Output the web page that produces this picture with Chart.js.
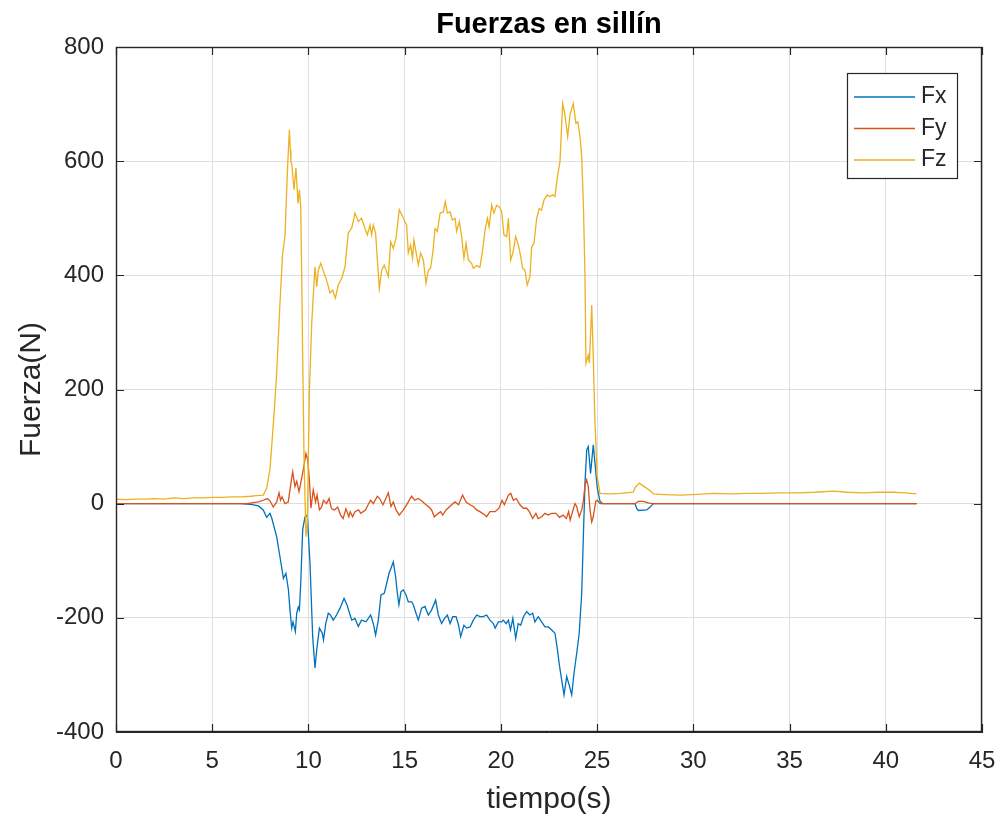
<!DOCTYPE html>
<html>
<head>
<meta charset="utf-8">
<script src="https://cdn.jsdelivr.net/npm/chart.js@4.4.1/dist/chart.umd.min.js"></script>
<style>
html,body{margin:0;padding:0;background:#fff;}
#wrap{width:1000px;height:820px;position:relative;}
</style>
</head>
<body>
<div id="wrap"><canvas id="c" width="1000" height="820"></canvas></div>
<script>
// ---- Data ----
const chartTitle = "Fuerzas en sillín";
const xLabel = "tiempo(s)";
const yLabel = "Fuerza(N)";
const seriesNames = ["Fx", "Fy", "Fz"];
const xTicks = [0,5,10,15,20,25,30,35,40,45];
const yTicks = [-400,-200,0,200,400,600,800];

const fxTime = [0,6.5,6.96,7.4,7.65,7.83,8.0,8.1,8.35,8.52,8.7,8.83,8.96,9.04,9.13,9.2,9.32,9.39,9.47,9.53,9.6,9.7,9.82,9.94,10.08,10.22,10.34,10.43,10.57,10.72,10.78,10.9,11.03,11.14,11.29,11.46,11.64,11.85,12.0,12.25,12.42,12.59,12.76,12.99,13.23,13.37,13.49,13.63,13.77,13.94,14.07,14.19,14.29,14.41,14.53,14.61,14.7,14.81,14.93,15.07,15.19,15.36,15.45,15.59,15.71,15.88,16.05,16.23,16.4,16.61,16.75,16.92,17.07,17.22,17.36,17.5,17.67,17.8,17.91,18.08,18.22,18.4,18.57,18.74,18.91,19.08,19.26,19.43,19.61,19.7,19.87,20.04,20.13,20.27,20.39,20.5,20.62,20.77,20.9,21.03,21.17,21.34,21.5,21.65,21.77,21.94,22.12,22.29,22.46,22.63,22.81,22.94,23.04,23.16,23.28,23.42,23.55,23.68,23.8,23.94,24.07,24.2,24.29,24.37,24.46,24.54,24.66,24.8,24.89,25.01,25.15,25.3,26.97,27.05,27.14,27.58,27.75,27.84,27.92,41.6];
const fxValues = [0,0,-1,-4,-11,-24,-17,-26,-58,-93,-131,-122,-151,-186,-218,-207,-224,-192,-181,-186,-139,-46,-23,-20,-104,-233,-288,-256,-218,-227,-239,-210,-192,-195,-204,-195,-183,-166,-177,-204,-201,-215,-204,-207,-195,-210,-230,-204,-160,-157,-139,-122,-113,-102,-128,-154,-177,-154,-151,-160,-172,-172,-177,-192,-204,-183,-180,-195,-186,-169,-195,-210,-201,-195,-210,-198,-198,-213,-233,-213,-218,-216,-204,-195,-198,-198,-195,-204,-210,-218,-207,-207,-204,-210,-204,-221,-201,-236,-210,-213,-198,-189,-195,-192,-207,-198,-207,-216,-216,-221,-227,-256,-283,-309,-335,-303,-318,-335,-297,-262,-227,-157,-52,36,94,100,53,103,71,27,4,0,0,-8,-12,-11,-6,-3,0,0];

const fyTime = [0,6.8,7.4,7.65,7.86,8.0,8.17,8.35,8.47,8.55,8.63,8.78,8.95,9.09,9.18,9.3,9.39,9.51,9.6,9.73,9.87,9.96,10.05,10.13,10.25,10.37,10.45,10.57,10.68,10.78,10.94,11.07,11.2,11.35,11.52,11.67,11.8,11.95,12.1,12.17,12.29,12.42,12.6,12.72,12.96,13.1,13.23,13.37,13.58,13.7,13.87,13.98,14.15,14.29,14.41,14.55,14.72,14.93,15.1,15.36,15.53,15.71,15.88,16.05,16.23,16.4,16.54,16.75,16.87,16.98,17.15,17.44,17.62,17.8,18.01,18.19,18.4,18.57,18.74,18.91,19.17,19.26,19.43,19.7,19.9,20.06,20.18,20.39,20.51,20.65,20.8,20.99,21.17,21.34,21.48,21.65,21.82,21.94,22.12,22.29,22.46,22.63,22.86,23.04,23.24,23.4,23.52,23.6,23.75,23.85,23.94,24.07,24.2,24.29,24.37,24.46,24.54,24.63,24.72,24.8,24.93,25.01,25.15,26.97,27.14,27.4,27.7,27.9,41.6];
const fyValues = [0,0,3,6,9,5,-6,3,19,6,12,0,3,36,56,30,39,21,36,59,88,77,42,-8,24,3,15,-11,-6,6,0,9,-9,-11,-6,-20,-26,-9,-23,-14,-23,-14,-11,-17,-11,-2,6,0,13,9,-2,6,19,-5,3,-11,-20,-11,-2,13,6,9,5,0,-5,-11,-23,-17,-14,-20,-11,-2,3,-2,15,3,-2,-5,-11,-14,-20,-23,-14,-14,-8,6,-2,15,18,6,9,-2,-8,-8,-14,-26,-17,-26,-23,-17,-20,-17,-17,-24,-20,-26,-14,-29,-11,0,-5,-23,-11,6,33,42,30,-11,-32,-23,4,6,0,0,4,4,1,0,0];

const fzTime = [0,0.5,1,1.5,2,2.5,3,3.5,4,4.5,5,5.5,6,6.5,7,7.3,7.65,7.83,8.0,8.09,8.22,8.35,8.52,8.66,8.78,8.87,8.93,9.01,9.06,9.09,9.14,9.25,9.35,9.46,9.53,9.6,9.65,9.7,9.77,9.87,9.94,10.05,10.17,10.25,10.34,10.43,10.51,10.64,10.76,10.94,11.12,11.26,11.4,11.55,11.73,11.9,12.07,12.25,12.42,12.59,12.76,12.94,13.06,13.2,13.28,13.37,13.49,13.68,13.81,13.94,14.15,14.27,14.41,14.55,14.72,14.85,15.02,15.1,15.19,15.31,15.41,15.48,15.71,15.83,15.97,16.11,16.23,16.34,16.46,16.58,16.7,16.84,17.01,17.11,17.22,17.36,17.48,17.62,17.7,17.84,17.96,18.08,18.19,18.31,18.48,18.57,18.74,18.91,19.05,19.18,19.3,19.39,19.52,19.64,19.78,19.92,20.04,20.16,20.3,20.39,20.51,20.62,20.77,20.91,21.03,21.13,21.25,21.37,21.51,21.6,21.72,21.86,21.99,22.11,22.24,22.41,22.55,22.69,22.81,22.94,23.07,23.21,23.33,23.47,23.59,23.76,23.9,24.0,24.11,24.2,24.29,24.37,24.42,24.54,24.6,24.72,24.8,24.89,25.01,25.15,25.67,26.2,26.88,26.97,27.19,27.49,27.75,27.92,28.5,29.31,30,31.04,32,32.8,33.6,34.5,35.4,36.3,37.27,38,38.85,39.6,40.39,41,41.6];
const fzValues = [8,7,8,8,9,8,10,9,10,10,11,11,12,12,13,14,15,27,60,100,160,229,351,439,468,550,600,655,620,599,593,550,588,526,550,520,400,258,82,-58,-34,199,316,363,415,380,409,421,409,392,369,374,360,383,395,415,474,483,509,494,500,482,471,488,471,488,474,377,409,418,398,459,447,465,515,506,494,488,439,453,430,462,418,439,427,386,409,412,439,482,477,509,511,529,509,511,497,500,477,494,468,430,456,427,421,412,417,414,444,480,500,485,523,509,523,520,511,471,468,500,427,439,468,453,433,412,409,383,398,450,456,500,517,514,532,541,538,541,538,573,599,701,681,643,681,701,666,669,643,608,520,398,246,260,246,348,257,141,47,18,17,18,20,28,36,29,23,17,16,15,16,18,17,18,18,19,19,20,22,20,19,20,20,19,17];

const colors = ["#0072BD", "#D95319", "#EDB120"];

// ---- Build datasets (later series drawn on top, as in the reference) ----
function pts(t, v){ return t.map((x,i)=>({x:x, y:v[i]})); }
const datasets = [
  {label: seriesNames[0], data: pts(fxTime, fxValues), borderColor: colors[0], order: 3},
  {label: seriesNames[1], data: pts(fyTime, fyValues), borderColor: colors[1], order: 2},
  {label: seriesNames[2], data: pts(fzTime, fzValues), borderColor: colors[2], order: 1}
].map(d => Object.assign(d, {borderWidth: 1.3, pointRadius: 0, tension: 0, fill: false}));

const FONT = "'Liberation Sans', Arial, Helvetica, sans-serif";
const INK = "#262626";

const decor = {
  id: 'decor',
  afterDraw(chart){
    const ctx = chart.ctx, a = chart.chartArea;
    ctx.save();
    // box
    ctx.strokeStyle = INK; ctx.lineWidth = 1.4;
    ctx.strokeRect(a.left+0.5, a.top+0.5, a.right-a.left-1, a.bottom-a.top-1);
    // inward tick marks
    const xs = chart.scales.x, ys = chart.scales.y;
    ctx.lineWidth = 1.2;
    ctx.beginPath();
    xTicks.forEach(v=>{ const p = Math.round(xs.getPixelForValue(v))+0.5;
      ctx.moveTo(p,a.bottom); ctx.lineTo(p,a.bottom-8);
      ctx.moveTo(p,a.top); ctx.lineTo(p,a.top+8); });
    yTicks.forEach(v=>{ const p = Math.round(ys.getPixelForValue(v))+0.5;
      ctx.moveTo(a.left,p); ctx.lineTo(a.left+8,p);
      ctx.moveTo(a.right,p); ctx.lineTo(a.right-8,p); });
    ctx.stroke();
    // title
    ctx.fillStyle = "#000";
    ctx.font = "bold 29px " + FONT;
    ctx.textAlign = "center"; ctx.textBaseline = "middle";
    ctx.fillText(chartTitle, (a.left+a.right)/2, 25);
    // axis titles
    ctx.fillStyle = INK;
    ctx.font = "30px " + FONT;
    ctx.fillText(xLabel, (a.left+a.right)/2, 800);
    ctx.save();
    ctx.translate(32, (a.top+a.bottom)/2);
    ctx.rotate(-Math.PI/2);
    ctx.fillText(yLabel, 0, 0);
    ctx.restore();
    // legend
    const lx = 847, ly = 73, lw = 110, lh = 105;
    ctx.fillStyle = "#fff";
    ctx.fillRect(lx, ly, lw, lh);
    ctx.strokeStyle = INK; ctx.lineWidth = 1.2;
    ctx.strokeRect(lx+0.5, ly+0.5, lw, lh);
    ctx.font = "23px " + FONT;
    ctx.textAlign = "left";
    chart.data.datasets.forEach((d,i)=>{
      const y = 97 + i*31.5;
      ctx.strokeStyle = d.borderColor; ctx.lineWidth = 1.3;
      ctx.beginPath(); ctx.moveTo(854, y); ctx.lineTo(915, y); ctx.stroke();
      ctx.fillStyle = INK;
      ctx.fillText(d.label, 921, y);
    });
    ctx.restore();
  }
};

new Chart(document.getElementById('c'), {
  type: 'line',
  data: {datasets},
  options: {
    responsive: false,
    animation: false,
    layout: {padding: {top: 47, right: 18, left: 0, bottom: 0}},
    plugins: {legend: {display: false}, title: {display: false}, tooltip: {enabled: false}},
    scales: {
      x: {
        type: 'linear', min: 0, max: 45,
        afterFit: s => { s.height = 88; s.paddingLeft = 0; s.paddingRight = 0; },
        afterBuildTicks: s => { s.ticks = xTicks.map(v=>({value:v})); },
        ticks: {color: INK, font: {family: FONT, size: 24}, padding: 15, maxRotation: 0},
        grid: {color: "#dedede", lineWidth: 1, drawTicks: false},
        border: {display: true, color: INK}
      },
      y: {
        type: 'linear', min: -400, max: 800,
        afterFit: s => { s.width = 116; s.paddingTop = 0; s.paddingBottom = 0; },
        afterBuildTicks: s => { s.ticks = yTicks.map(v=>({value:v})); },
        ticks: {color: INK, font: {family: FONT, size: 24}, padding: 12},
        grid: {color: "#dedede", lineWidth: 1, drawTicks: false},
        border: {display: true, color: INK}
      }
    }
  },
  plugins: [decor]
});
</script>
</body>
</html>
